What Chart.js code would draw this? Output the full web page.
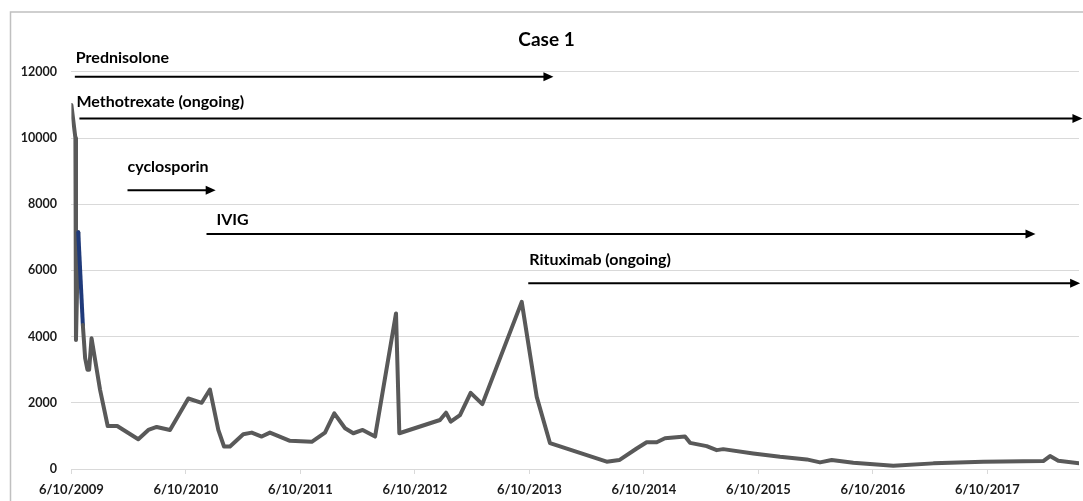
<!DOCTYPE html>
<html>
<head>
<meta charset="utf-8">
<script src="https://cdn.jsdelivr.net/npm/chart.js@4/dist/chart.umd.min.js"></script>
<style>
  html, body { margin: 0; padding: 0; background: #fff; }
  #chart { display: block; }
</style>
</head>
<body>
<canvas id="chart" width="1083" height="501"></canvas>
<script>
  // years since 6/10/2009
  const yearsSinceStart = [
    0.00, 0.035, 0.04, 0.06, 0.10, 0.12, 0.14, 0.155, 0.176, 0.25,
    0.317, 0.40, 0.584, 0.672, 0.745, 0.861, 1.021, 1.138, 1.21, 1.283,
    1.333, 1.385, 1.501, 1.575, 1.662, 1.734, 1.909, 2.099, 2.215, 2.296,
    2.39, 2.462, 2.544, 2.652, 2.835, 2.864, 3.219, 3.272, 3.313, 3.394,
    3.487, 3.589, 3.933, 4.064, 4.18, 4.675, 4.785, 4.937, 5.024, 5.112,
    5.184, 5.359, 5.403, 5.548, 5.636, 5.693, 5.955, 6.189, 6.422, 6.538,
    6.64, 6.829, 7.178, 7.528, 7.964, 8.488, 8.547, 8.619, 8.808
  ];
  const caseValues = [
    11000, 10000, 3900, 7150, 4350, 3350, 3000, 3000, 3950, 2400,
    1300, 1300, 900, 1180, 1270, 1180, 2130, 2000, 2400, 1180,
    680, 680, 1050, 1100, 980, 1100, 850, 820, 1100, 1680,
    1230, 1080, 1180, 980, 4700, 1080, 1480, 1700, 1430, 1630,
    2300, 1960, 5050, 2180, 780, 220, 270, 620, 810, 810,
    930, 980, 790, 690, 570, 600, 470, 370, 290, 200,
    270, 190, 100, 170, 220, 240, 390, 250, 170
  ];
  const startYear = 2009;
  const yTicks = [0, 2000, 4000, 6000, 8000, 10000, 12000];

  // treatment arrows
  const drugNames = ['Prednisolone', 'Methotrexate (ongoing)', 'cyclosporin', 'IVIG', 'Rituximab (ongoing)'];
  const drugStart = [0.03, 0.07, 0.49, 1.18, 3.99];
  const drugEnd = [4.21, 8.83, 1.26, 8.42, 8.81];
  const drugLevel = [11850, 10590, 8425, 7100, 5610];
  const labelDx = [1, -3, 0, 10, 1];
  const labelDy = [-19, -17, -23, -14, -23];

  Chart.defaults.font.family = 'Lato, "Open Sans", sans-serif';
  Chart.defaults.color = '#1a1a1a';

  const framePlugin = {
    id: 'frame',
    beforeDraw(chart) {
      const c = chart.ctx;
      c.save();
      c.strokeStyle = '#c0c0c0';
      c.lineWidth = 1.5;
      c.beginPath();
      c.moveTo(10.5, chart.height);
      c.lineTo(10.5, 12);
      c.lineTo(chart.width, 12);
      c.stroke();
      c.restore();
    }
  };

  const arrowPlugin = {
    id: 'arrows',
    afterDatasetsDraw(chart) {
      const c = chart.ctx;
      const xs = chart.scales.x, ys = chart.scales.y;
      c.save();
      c.strokeStyle = '#000';
      c.fillStyle = '#000';
      c.lineWidth = 2;
      drugNames.forEach((name, i) => {
        const x0 = xs.getPixelForValue(drugStart[i]);
        const x1 = xs.getPixelForValue(drugEnd[i]);
        const y = ys.getPixelForValue(drugLevel[i]);
        c.beginPath();
        c.moveTo(x0, y);
        c.lineTo(x1 - 8, y);
        c.stroke();
        c.beginPath();
        c.moveTo(x1, y);
        c.lineTo(x1 - 10, y - 4.5);
        c.lineTo(x1 - 10, y + 4.5);
        c.closePath();
        c.fill();
        c.font = 'bold 16px Lato, "Open Sans", sans-serif';
        c.textAlign = 'left';
        c.textBaseline = 'middle';
        c.fillText(name, x0 + labelDx[i], y + labelDy[i]);
      });
      c.restore();
    }
  };

  new Chart(document.getElementById('chart'), {
    type: 'line',
    data: {
      datasets: [{
        label: 'Case 1',
        data: yearsSinceStart.map((t, i) => ({ x: t, y: caseValues[i] })),
        borderColor: '#595959',
        borderWidth: 4,
        borderJoinStyle: 'round',
        borderCapStyle: 'round',
        pointRadius: 0,
        tension: 0,
        segment: {
          borderColor: ctx => ctx.p0DataIndex === 3 ? '#1f3a7a' : undefined
        }
      }]
    },
    options: {
      responsive: false,
      animation: false,
      layout: { padding: { left: 14, right: 4, top: 0, bottom: 0 } },
      plugins: {
        legend: { display: false },
        tooltip: { enabled: false },
        title: {
          display: true,
          text: 'Case 1',
          color: '#000',
          font: { size: 19, weight: 'bold', lineHeight: 1.2 },
          padding: { top: 28, bottom: 21 }
        }
      },
      scales: {
        x: {
          type: 'linear',
          min: 0,
          max: 8.8,
          afterFit: s => { s.height = 32; },
          afterBuildTicks: s => { s.ticks = s.ticks.filter(t => Number.isInteger(t.value)); },
          ticks: {
            stepSize: 1,
            includeBounds: false,
            padding: 8,
            maxRotation: 0,
            autoSkip: false,
            font: { size: 13, weight: 'bold' },
            callback: v => '6/10/' + (startYear + v)
          },
          grid: { drawOnChartArea: false, drawTicks: true, tickLength: 5, color: '#d9d9d9' },
          border: { display: true, color: '#d9d9d9' }
        },
        y: {
          min: 0,
          max: 12000,
          afterFit: s => { s.width = 57.4; },
          afterBuildTicks: s => { s.ticks = yTicks.map(v => ({ value: v })); },
          ticks: {
            padding: 14.5,
            font: { size: 12.5, weight: 'bold' },
            callback: v => String(v)
          },
          grid: { drawTicks: false, color: '#d9d9d9', lineWidth: 1 },
          border: { display: false }
        }
      }
    },
    plugins: [framePlugin, arrowPlugin]
  });
</script>
</body>
</html>
